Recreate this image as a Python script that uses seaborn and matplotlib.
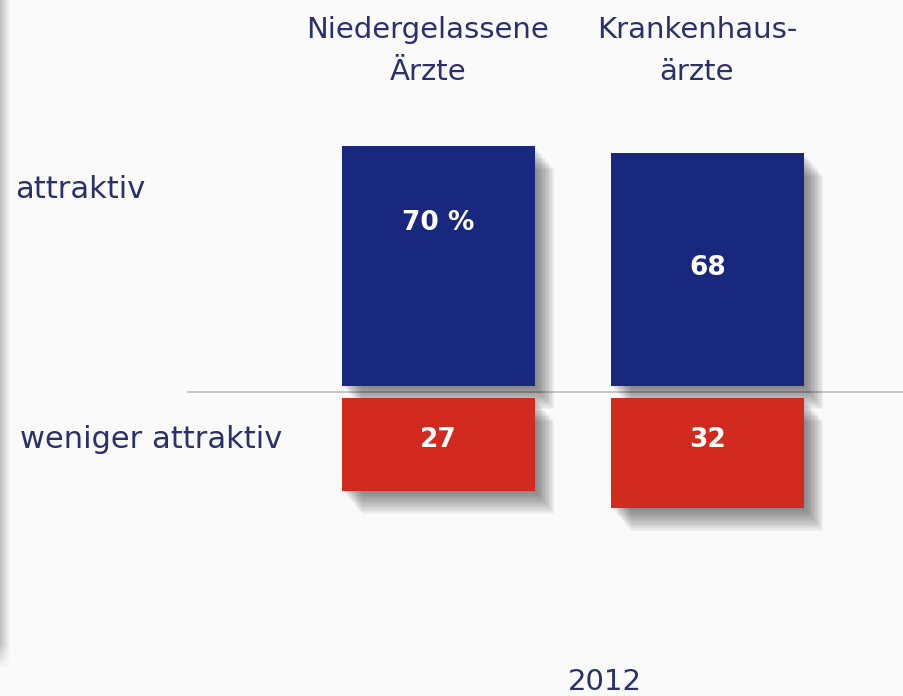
import numpy as np
import pandas as pd
import matplotlib
matplotlib.use("Agg")
import matplotlib.pyplot as plt
import matplotlib.patheffects as pe
import seaborn as sns

# Survey shares (percent), 2012
groups = ["Niedergelassene\nÄrzte", "Krankenhaus-\närzte"]
attraktiv = [70, 68]
weniger_attraktiv = [27, 32]
value_labels_top = ["70 %", "68"]
value_labels_bottom = ["27", "32"]
row_labels = ["attraktiv", "weniger attraktiv"]
year = "2012"

BLUE = "#19287f"
RED = "#d22a1f"
TEXT = "#2b2f6b"
BG = "#fafafa"
GAP = 1.75  # space between the bars and the zero line, in percent units

sns.set_theme(style="white")
plt.rcParams["font.family"] = ["DejaVu Sans"]

fig = plt.figure(figsize=(9.04, 6.96), dpi=100)
fig.patch.set_facecolor(BG)
ax = fig.add_axes([0, 0, 1, 1])
ax.set_facecolor(BG)

df = pd.DataFrame({
    "group": groups * 2,
    "value": attraktiv + [-v for v in weniger_attraktiv],
    "kind": ["top"] * 2 + ["bottom"] * 2,
})

sns.barplot(data=df, x="group", y="value", hue="kind",
            palette={"top": BLUE, "bottom": RED}, dodge=False,
            width=0.717, saturation=1, legend=False, ax=ax, zorder=3)

# Soft drop shadow built from stacked translucent offsets
shadow = [pe.SimplePatchShadow(offset=(o, -1.2 * o), shadow_rgbFace="#000000",
                               alpha=0.038)
          for o in range(14, 0, -1)]
shadow.append(pe.Normal())
for p in ax.patches:
    h = p.get_height()
    p.set_y(GAP if h > 0 else -GAP)
    p.set_linewidth(0)
    p.set_path_effects(shadow)

# Zero line
ax.plot([-0.931, 2.0], [0, 0], color="#c6c6c9", lw=1.4, zorder=2)

ax.set_xlim(-1.630, 1.730)
ax.set_ylim(-88.6, 114.3)
ax.set_axis_off()

# Values inside the bars
top_y = [49.3, 36.2]
for i, (lab, y) in enumerate(zip(value_labels_top, top_y)):
    ax.text(i, y, lab, color="white", fontsize=19, fontweight="bold",
            ha="center", va="center", zorder=5)
for i, lab in enumerate(value_labels_bottom):
    ax.text(i, -14.0, lab, color="white", fontsize=19, fontweight="bold",
            ha="center", va="center", zorder=5)

# Column headers
for i, g in enumerate(groups):
    ax.text(i - 0.04, 1 - 51 / 696, g, transform=ax.get_xaxis_transform(),
            color=TEXT, fontsize=21, ha="center", va="center",
            linespacing=1.65)

# Row labels
fig.text(15 / 904, 1 - 190 / 696, row_labels[0], color=TEXT, fontsize=22,
         ha="left", va="center")
fig.text(20 / 904, 1 - 440 / 696, row_labels[1], color=TEXT, fontsize=22,
         ha="left", va="center")

# Year
fig.text(605 / 904, 1 - 682 / 696, year, color=TEXT, fontsize=21,
         ha="center", va="center")

# Shaded strip along the left edge, fading out towards the bottom
strip = fig.add_axes([0, 0, 14 / 904, 1])
strip.set_facecolor("none")
nx, ny = 14, 696
xs = np.linspace(0, 1, nx)
ys = np.arange(ny)
alpha_x = np.clip(0.42 * (1 - xs / 0.75), 0, None)
alpha_y = np.clip((668 - ys) / 25, 0, 1)
rgba = np.zeros((ny, nx, 4))
rgba[..., :3] = 0.45
rgba[..., 3] = alpha_y[:, None] * alpha_x[None, :]
strip.imshow(rgba, aspect="auto", extent=[0, 1, 0, 1], origin="upper",
             interpolation="bilinear")
strip.set_axis_off()

fig.savefig("out.png", dpi=100, facecolor=BG)
